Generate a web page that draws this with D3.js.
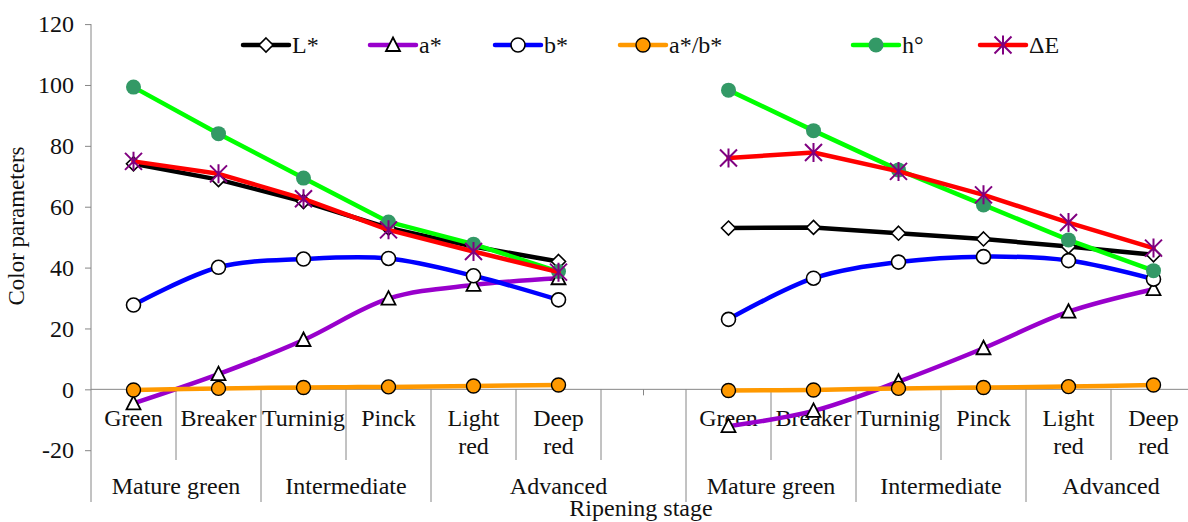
<!DOCTYPE html>
<html><head><meta charset="utf-8">
<script src="https://cdn.jsdelivr.net/npm/d3@7"></script>
<style>
body{margin:0;background:#fff;}
svg{display:block;}
</style>
</head><body>
<svg id="c" width="1188" height="522"></svg>
<script>
// ---------- data ----------
const stages = ["Green", "Breaker", "Turninig", "Pinck", "Light red", "Deep red"];
const groups = ["Mature green", "Intermediate", "Advanced"];
const yTicks = [-20, 0, 20, 40, 60, 80, 100, 120];
const seriesNames = ["L*", "a*", "b*", "a*/b*", "h°", "ΔE"];

// first panel (left)
const L_left    = [74.1, 68.9, 61.7, 53.0, 46.9, 42.0];
const a_left    = [-4.6, 5.0, 16.2, 29.8, 34.3, 36.5];
const b_left    = [27.7, 40.1, 42.8, 43.0, 37.3, 29.4];
const ab_left   = [-0.2, 0.3, 0.6, 0.8, 1.1, 1.4];
const h_left    = [99.3, 84.0, 69.4, 55.0, 47.7, 38.7];
const dE_left   = [74.9, 70.8, 62.6, 52.4, 45.3, 38.5];

// second panel (right)
const L_right   = [53.0, 53.2, 51.3, 49.4, 46.9, 44.2];
const a_right   = [-12.1, -7.1, 2.5, 13.5, 25.5, 32.9];
const b_right   = [23.0, 36.5, 41.8, 43.6, 42.3, 36.2];
const ab_right  = [-0.4, -0.2, 0.3, 0.6, 0.9, 1.4];
const h_right   = [98.3, 85.0, 72.1, 60.6, 49.1, 39.0];
const dE_right  = [76.0, 77.8, 71.6, 63.9, 54.8, 46.4];

// ---------- layout ----------
const FONT = "Liberation Serif";
const svg = d3.select("#c");
const slotsLeft = stages.map((s, i) => "A" + i);
const slotsRight = stages.map((s, i) => "B" + i);
const slots = [...slotsLeft, "gap", ...slotsRight];

const x = d3.scaleBand().domain(slots).range([91, 1196]).padding(0);
const y = d3.scaleLinear().domain([-20, 120]).range([450.2, 24.1]);
const cx = k => x(k) + x.bandwidth() / 2;

const axisColor = "#868686";
const fontPx = 24;
const txt = (sel) => sel.attr("font-family", FONT).attr("fill", "#111");

// y axis
const yAxis = d3.axisLeft(y).tickValues(yTicks).tickSize(6).tickPadding(11).tickFormat(d => String(d));
const gy = svg.append("g").attr("transform", "translate(91,0)").call(yAxis);
gy.attr("font-family", FONT).attr("font-size", fontPx);
gy.select(".domain").remove();
gy.selectAll(".tick line").attr("stroke", axisColor);
gy.selectAll(".tick text").attr("font-size", fontPx).attr("fill", "#111").attr("font-family", FONT);
svg.append("line").attr("x1", 91).attr("x2", 91).attr("y1", y(120)).attr("y2", 502)
  .attr("stroke", axisColor).attr("stroke-width", 1);

// x axis line at 0
const y0 = y(0);
svg.append("line").attr("x1", 91).attr("x2", 1196).attr("y1", y0).attr("y2", y0)
  .attr("stroke", axisColor).attr("stroke-width", 1);

// category separators
const shortSep = ["A1", "A3", "A5", "gap", "B1", "B3", "B5"];
shortSep.forEach(k => {
  svg.append("line").attr("x1", x(k)).attr("x2", x(k)).attr("y1", y0).attr("y2", 460)
    .attr("stroke", axisColor);
});
const longSep = ["A2", "A4", "B0", "B2", "B4"];
longSep.forEach(k => {
  svg.append("line").attr("x1", x(k)).attr("x2", x(k)).attr("y1", y0).attr("y2", 502)
    .attr("stroke", axisColor);
});
svg.append("line").attr("x1", cx("gap")).attr("x2", cx("gap")).attr("y1", y0).attr("y2", y0 + 6)
  .attr("stroke", axisColor);

// stage labels
const stageLabels = [...slotsLeft.map((k, i) => [k, stages[i]]), ...slotsRight.map((k, i) => [k, stages[i]])];
stageLabels.forEach(([k, s]) => {
  const parts = s.split(" ");
  const t = svg.append("text").attr("x", cx(k)).attr("text-anchor", "middle")
    .attr("font-size", fontPx).call(txt);
  parts.forEach((p, i) => {
    t.append("tspan").attr("x", cx(k)).attr("y", 426 + i * 28).text(p);
  });
});

// group labels
const groupSpans = [
  ["A0", "A1", groups[0]], ["A2", "A3", groups[1]], ["A4", "gap", groups[2]],
  ["B0", "B1", groups[0]], ["B2", "B3", groups[1]], ["B4", "B5", groups[2]]
];
groupSpans.forEach(([a, b, g]) => {
  svg.append("text").attr("x", (x(a) + x(b) + x.bandwidth()) / 2).attr("y", 494)
    .attr("text-anchor", "middle").attr("font-size", fontPx).call(txt).text(g);
});

// axis titles
svg.append("text").attr("x", 641).attr("y", 516).attr("text-anchor", "middle")
  .attr("font-size", 24).call(txt).text("Ripening stage");
svg.append("text").attr("transform", "translate(24,226) rotate(-90)").attr("text-anchor", "middle")
  .attr("font-size", 23).call(txt).text("Color parameters");

// ---------- series ----------
const series = [
  { name: seriesNames[0], color: "#000000", marker: "diamond", smooth: false, left: L_left, right: L_right },
  { name: seriesNames[1], color: "#9900CC", marker: "triangle", smooth: true, left: a_left, right: a_right },
  { name: seriesNames[2], color: "#0000FF", marker: "circleWhite", smooth: true, left: b_left, right: b_right },
  { name: seriesNames[3], color: "#FF9900", marker: "circleOrange", smooth: true, left: ab_left, right: ab_right },
  { name: seriesNames[4], color: "#00FF00", marker: "dotGreen", smooth: false, left: h_left, right: h_right },
  { name: seriesNames[5], color: "#FF0000", marker: "asterisk", smooth: false, left: dE_left, right: dE_right }
];

function drawMarker(g, type, px, py) {
  if (type === "diamond") {
    g.append("path").attr("d", `M${px},${py - 7}L${px + 7},${py}L${px},${py + 7}L${px - 7},${py}Z`)
      .attr("fill", "#fff").attr("stroke", "#000").attr("stroke-width", 1.6);
  } else if (type === "triangle") {
    g.append("path").attr("d", `M${px},${py - 7.5}L${px + 7},${py + 6}L${px - 7},${py + 6}Z`)
      .attr("fill", "#fff").attr("stroke", "#000").attr("stroke-width", 1.8);
  } else if (type === "circleWhite") {
    g.append("circle").attr("cx", px).attr("cy", py).attr("r", 7)
      .attr("fill", "#fff").attr("stroke", "#000").attr("stroke-width", 1.6);
  } else if (type === "circleOrange") {
    g.append("circle").attr("cx", px).attr("cy", py).attr("r", 7)
      .attr("fill", "#FF9900").attr("stroke", "#000").attr("stroke-width", 1.4);
  } else if (type === "dotGreen") {
    g.append("circle").attr("cx", px).attr("cy", py).attr("r", 7.5).attr("fill", "#339966");
  } else if (type === "asterisk") {
    const s = 8.5;
    g.append("path")
      .attr("d", `M${px - s},${py - s}L${px + s},${py + s}M${px - s},${py + s}L${px + s},${py - s}M${px},${py - s - 1}L${px},${py + s + 1}`)
      .attr("stroke", "#800080").attr("stroke-width", 2).attr("fill", "none");
  }
}

const smoothLine = d3.line().x(d => d[0]).y(d => d[1]).curve(d3.curveCatmullRom.alpha(0.5));
const straightLine = d3.line().x(d => d[0]).y(d => d[1]);

series.forEach(s => {
  const g = svg.append("g");
  const gen = s.smooth ? smoothLine : straightLine;
  [[slotsLeft, s.left], [slotsRight, s.right]].forEach(([ks, vals]) => {
    const pts = vals.map((v, i) => [cx(ks[i]), y(v)]);
    g.append("path").attr("d", gen(pts)).attr("fill", "none").attr("stroke", s.color)
      .attr("stroke-width", 4.5).attr("stroke-linejoin", "round").attr("stroke-linecap", "round");
  });
  [[slotsLeft, s.left], [slotsRight, s.right]].forEach(([ks, vals]) => {
    vals.forEach((v, i) => drawMarker(g, s.marker, cx(ks[i]), y(v)));
  });
});

// ---------- legend ----------
const legendX = [266, 393, 518, 643, 876, 1003];
const ly = 45;
series.forEach((s, i) => {
  const g = svg.append("g");
  const m = legendX[i];
  g.append("line").attr("x1", m - 23).attr("x2", m + 23).attr("y1", ly).attr("y2", ly)
    .attr("stroke", s.color).attr("stroke-width", 4.5).attr("stroke-linecap", "round");
  drawMarker(g, s.marker, m, ly);
  g.append("text").attr("x", m + 26).attr("y", ly + 8).attr("font-size", fontPx).call(txt).text(s.name);
});
</script>
</body></html>
